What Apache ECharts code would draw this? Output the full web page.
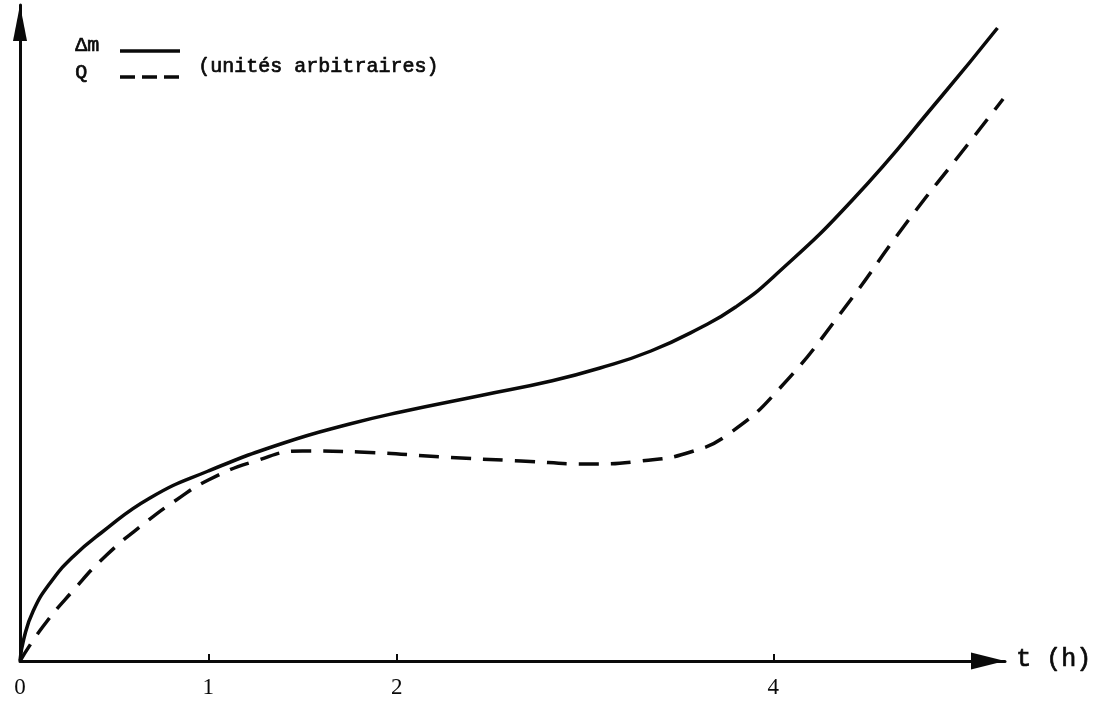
<!DOCTYPE html>
<html>
<head>
<meta charset="utf-8">
<script src="https://cdn.jsdelivr.net/npm/echarts@6/dist/echarts.min.js"></script>
<style>
  html, body { margin: 0; padding: 0; background: #fff; }
  #chart { width: 1111px; height: 701px; }
</style>
</head>
<body>
<div id="chart"></div>
<script>
// Δm curve (solid): time in hours, value in arbitrary units
const dmTime  = [0, 0.02, 0.07, 0.16, 0.28, 0.43, 0.69, 1.00, 1.40, 1.75, 2.02, 2.46, 2.82, 3.08, 3.35, 3.61, 3.80, 4.00, 4.42, 4.89, 5.19];
const dmValue = [0, 0.22, 0.50, 0.78, 1.04, 1.28, 1.63, 1.90, 2.18, 2.37, 2.49, 2.66, 2.80, 2.93, 3.10, 3.33, 3.54, 3.84, 4.61, 5.64, 6.33];

// Q curve (dashed)
const qTime  = [0, 0.12, 0.28, 0.46, 0.67, 0.83, 1.00, 1.25, 1.50, 1.80, 2.25, 2.66, 3.03, 3.30, 3.56, 3.77, 4.04, 4.37, 4.71, 5.03, 5.22];
const qValue = [0, 0.34, 0.70, 1.06, 1.39, 1.61, 1.81, 2.00, 2.10, 2.09, 2.04, 2.00, 1.97, 2.00, 2.09, 2.28, 2.74, 3.51, 4.39, 5.16, 5.62];

// Axis ticks and labels
const tickValues = [0, 1, 2, 4];
const xLabel = 't (h)';
const legendSolid = 'Δm';
const legendDashed = 'Q';
const unitsNote = '(unités arbitraires)';

const zip = (xs, ys) => xs.map((x, i) => [x, ys[i]]);

const ink = '#0a0a0a';
const mono = '"Liberation Mono", "DejaVu Sans Mono", monospace';
const serif = '"Liberation Serif", "DejaVu Serif", serif';

// typewriter-style text: regular face with a light outline
const typed = (text, left, top, size) => ({
  type: 'text', left, top,
  style: { text, font: size + 'px ' + mono, fill: ink, stroke: ink, lineWidth: 0.7 }
});

const chart = echarts.init(document.getElementById('chart'));
chart.setOption({
  animation: false,
  backgroundColor: '#fff',
  grid: { left: 20, right: 106, top: 5, bottom: 40 },
  xAxis: {
    type: 'value',
    min: 0,
    max: 5.23,
    splitLine: { show: false },
    axisLine: {
      lineStyle: { color: ink, width: 3 },
      symbol: ['none', 'triangle'],
      symbolSize: [17, 34],
      symbolOffset: [0, -17]
    },
    axisTick: {
      show: true,
      inside: true,
      length: 7,
      lineStyle: { color: ink, width: 2 },
      customValues: tickValues.filter(v => v > 0)
    },
    axisLabel: {
      show: true,
      customValues: tickValues,
      margin: 15,
      color: ink,
      fontFamily: serif,
      fontSize: 23
    }
  },
  yAxis: {
    type: 'value',
    min: 0,
    max: 6.56,
    splitLine: { show: false },
    axisTick: { show: false },
    axisLabel: { show: false },
    axisLine: {
      show: true,
      lineStyle: { color: ink, width: 3 },
      symbol: ['none', 'triangle'],
      symbolSize: [14, 36],
      symbolOffset: [0, -18]
    }
  },
  series: [
    {
      name: legendSolid,
      type: 'line',
      data: zip(dmTime, dmValue),
      smooth: 0.5,
      showSymbol: false,
      lineStyle: { color: ink, width: 3.5 }
    },
    {
      name: legendDashed,
      type: 'line',
      data: zip(qTime, qValue),
      smooth: 0.5,
      showSymbol: false,
      lineStyle: { color: ink, width: 3.5, type: [20, 12] }
    }
  ],
  graphic: [
    typed(xLabel, 1016, 647, 25),
    typed(legendSolid, 75, 35, 20),
    { type: 'line', shape: { x1: 120, y1: 51, x2: 180, y2: 51 },
      style: { stroke: ink, lineWidth: 3.5 } },
    typed(legendDashed, 75, 62, 20),
    { type: 'line', shape: { x1: 120, y1: 77, x2: 180, y2: 77 },
      style: { stroke: ink, lineWidth: 3.5, lineDash: [15, 7] } },
    typed(unitsNote, 198, 56, 20)
  ]
});
</script>
</body>
</html>
